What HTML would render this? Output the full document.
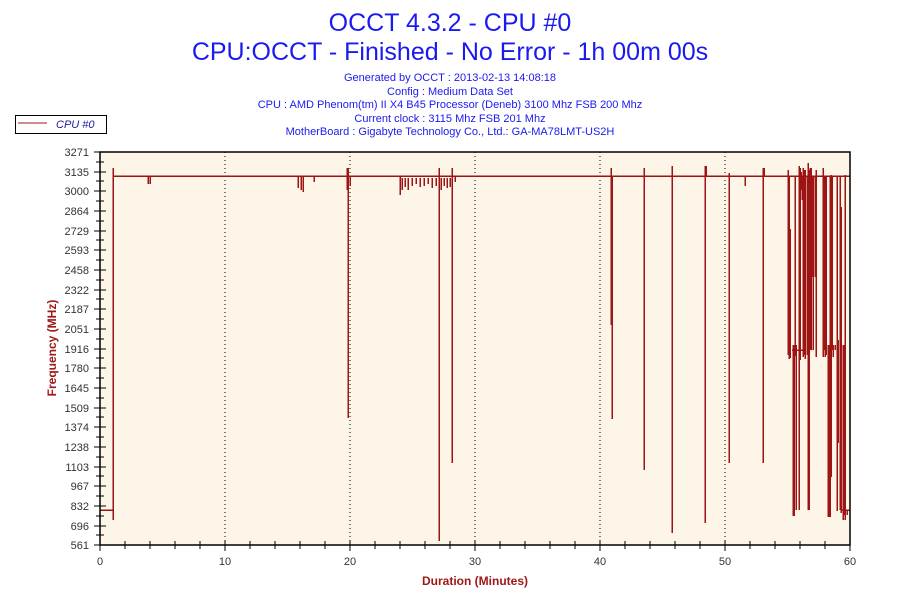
<!DOCTYPE html>
<html><head><meta charset="utf-8"><style>
body{margin:0;background:#fff;}
svg{display:block;font-family:"Liberation Sans",sans-serif;}
</style></head><body>
<svg width="900" height="600" viewBox="0 0 900 600">
<rect width="900" height="600" fill="#fff"/>
<text x="450" y="31" text-anchor="middle" font-size="25" fill="#1a1af0">OCCT 4.3.2 - CPU #0</text>
<text x="450" y="60" text-anchor="middle" font-size="25" fill="#1a1af0">CPU:OCCT - Finished - No Error - 1h 00m 00s</text>
<g font-size="11" fill="#1a1af0" text-anchor="middle">
<text x="450" y="81">Generated by OCCT : 2013-02-13 14:08:18</text>
<text x="450" y="95">Config : Medium Data Set</text>
<text x="450" y="108">CPU : AMD Phenom(tm) II X4 B45 Processor (Deneb) 3100 Mhz FSB 200 Mhz</text>
<text x="450" y="122">Current clock : 3115 Mhz FSB 201 Mhz</text>
<text x="450" y="135">MotherBoard : Gigabyte Technology Co., Ltd.: GA-MA78LMT-US2H</text>
</g>
<rect x="15.5" y="115.5" width="91" height="18" fill="#fff" stroke="#000"/>
<line x1="18" y1="123" x2="47" y2="123" stroke="#a01818"/>
<text x="56" y="128" font-size="11" font-style="italic" fill="#1a1aa0">CPU #0</text>
<rect x="100" y="152" width="750" height="393" fill="#fdf6e8"/>
<g stroke="#000" stroke-dasharray="1,3">
<line x1="225" y1="152" x2="225" y2="545"/><line x1="350" y1="152" x2="350" y2="545"/>
<line x1="475" y1="152" x2="475" y2="545"/><line x1="600" y1="152" x2="600" y2="545"/>
<line x1="725" y1="152" x2="725" y2="545"/>
</g>
<g stroke="#9c1414" stroke-width="1.5" fill="none" shape-rendering="crispEdges">
<path d="M100 510 H113 V168 V520 M113 176 H850"/>
<path d="M148 176V184M150 176V184M298 176V188M301 176V190M303 176V192M314 176V182M347 168V190M348 168V418M350 176V186M400 176V195M402 178V190M405 178V187M408 178V190M412 178V186M416 178V184M420 178V187M424 178V186M428 178V184M432 178V188M436 178V186M439 168V541M441 178V190M444 178V186M447 178V188M450 178V187M452 168V463M455 176V182M611 168V325M612 176V419M644 168V470M672 166V533M705 166V523M706 166V176M729 173V463M745 176V186M763 168V463M764 168V176"/>
<path d="M788 170V355M789 176V359M790 229V358M792 350H803M793 345V516M794 345V516M795 176V356M796 345V510M799 166V510M800 168V360M801 172V190M802 176V200M803 168V357M804 170V355M805 170V359M807 176V355M808 163V510M809 170V510M810 168V350M811 168V350M812 176V277M813 176V350M815 176V277M816 170V357M823 168V357M824 176V350M825 176V357M826 176V355M828 345V517M829 345V517M830 176V517M831 175V477M832 176V350M833 345V357M835 345V350M837 177V511M838 340V443M840 176V510M841 207V513M843 345V520M844 345V515M845 175V520M847 510V515M842 510H850"/>
</g>
<rect x="100" y="152" width="750" height="393" fill="none" stroke="#000" stroke-width="1.5"/>
<g stroke="#000">
<path d="M94 152H106M96 162H104M94 172H106M96 181H104M94 191H106M96 201H104M94 211H106M96 221H104M94 231H106M96 240H104M94 250H106M96 260H104M94 270H106M96 280H104M94 290H106M96 299H104M94 309H106M96 319H104M94 329H106M96 339H104M94 349H106M96 358H104M94 368H106M96 378H104M94 388H106M96 398H104M94 408H106M96 417H104M94 427H106M96 437H104M94 447H106M96 457H104M94 467H106M96 476H104M94 486H106M96 496H104M94 506H106M96 516H104M94 526H106M96 535H104M94 545H106"/>
<path d="M100 540V551M125 541V549M150 541V549M175 541V549M200 541V549M225 540V551M250 541V549M275 541V549M300 541V549M325 541V549M350 540V551M375 541V549M400 541V549M425 541V549M450 541V549M475 540V551M500 541V549M525 541V549M550 541V549M575 541V549M600 540V551M625 541V549M650 541V549M675 541V549M700 541V549M725 540V551M750 541V549M775 541V549M800 541V549M825 541V549M850 540V551"/>
</g>
<g font-size="11" fill="#333" text-anchor="end">
<text x="89" y="156">3271</text><text x="89" y="176">3135</text><text x="89" y="195">3000</text><text x="89" y="215">2864</text><text x="89" y="235">2729</text><text x="89" y="254">2593</text><text x="89" y="274">2458</text><text x="89" y="294">2322</text><text x="89" y="313">2187</text><text x="89" y="333">2051</text><text x="89" y="353">1916</text><text x="89" y="372">1780</text><text x="89" y="392">1645</text><text x="89" y="412">1509</text><text x="89" y="431">1374</text><text x="89" y="451">1238</text><text x="89" y="471">1103</text><text x="89" y="490">967</text><text x="89" y="510">832</text><text x="89" y="530">696</text><text x="89" y="549">561</text>
</g>
<g font-size="11" fill="#333" text-anchor="middle">
<text x="100" y="565">0</text><text x="225" y="565">10</text><text x="350" y="565">20</text><text x="475" y="565">30</text><text x="600" y="565">40</text><text x="725" y="565">50</text><text x="850" y="565">60</text>
</g>
<text x="475" y="585" text-anchor="middle" font-size="12" font-weight="bold" fill="#a01818">Duration (Minutes)</text>
<text transform="translate(56,348) rotate(-90)" text-anchor="middle" font-size="12" font-weight="bold" fill="#a01818">Frequency (MHz)</text>
</svg>
</body></html>
